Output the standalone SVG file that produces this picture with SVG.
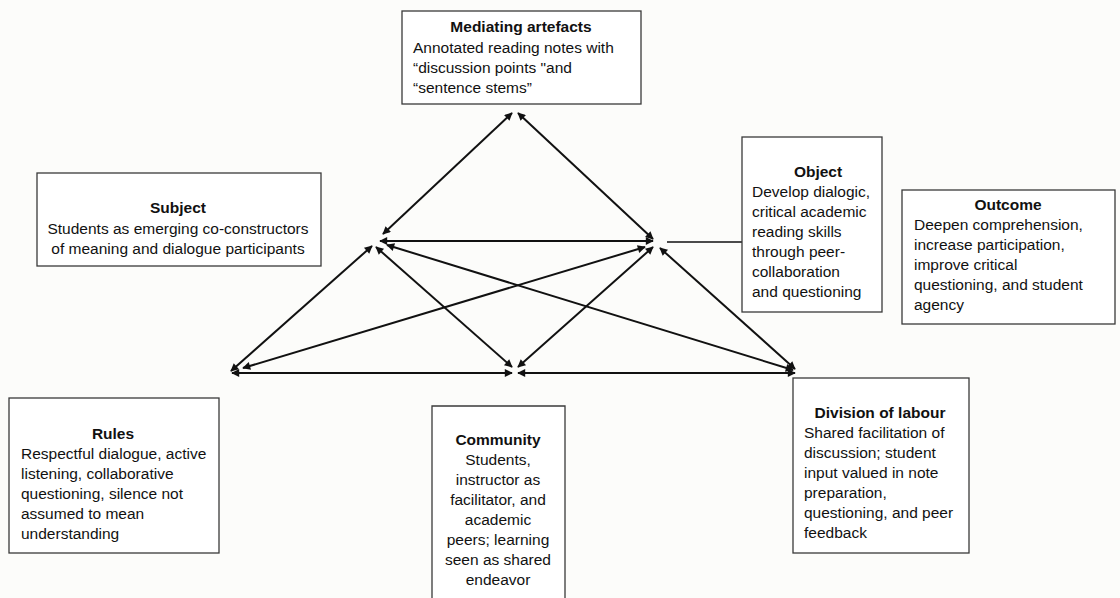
<svg xmlns="http://www.w3.org/2000/svg" width="1120" height="598" viewBox="0 0 1120 598">
  <style>
    .box { fill: #ffffff; stroke: #3a3a3a; stroke-width: 1.3; }
    .t { font-family: "Liberation Sans", Arial, sans-serif; font-size: 15.5px; fill: #111; }
    .h { font-weight: bold; text-anchor: middle; }
    .c { text-anchor: middle; }
    .link { stroke: #111; stroke-width: 2; fill: none; marker-start: url(#tip); marker-end: url(#tip); }
    .plain { stroke: #111; stroke-width: 1.5; fill: none; }
  </style>
  <defs>
    <marker id="tip" viewBox="0 0 10 10" refX="9" refY="5" markerWidth="10" markerHeight="8" markerUnits="userSpaceOnUse" orient="auto-start-reverse">
      <path d="M0,0 L10,5 L0,10 z" fill="#111"/>
    </marker>
  </defs>

  <rect x="0" y="0" width="1120" height="598" fill="#fcfcfa"/>

  <!-- connectors of the activity system triangle -->
  <g id="connectors">
    <line class="link" x1="512" y1="113" x2="383" y2="234"/>
    <line class="link" x1="518" y1="113" x2="653" y2="239"/>
    <line class="link" x1="380" y1="241" x2="653" y2="241"/>
    <line class="link" x1="372" y1="246" x2="231" y2="371"/>
    <line class="link" x1="232" y1="373" x2="512" y2="373"/>
    <line class="link" x1="243" y1="368" x2="645" y2="247"/>
    <line class="link" x1="376" y1="247" x2="512" y2="367"/>
    <line class="link" x1="387" y1="245" x2="793" y2="370"/>
    <line class="link" x1="653" y1="247" x2="518" y2="367"/>
    <line class="link" x1="660" y1="248" x2="795" y2="369"/>
    <line class="link" x1="518" y1="373" x2="795" y2="373"/>
    <line class="plain" x1="667" y1="242" x2="742" y2="242"/>
  </g>

  <g id="mediating-artefacts">
    <rect class="box" x="402" y="11" width="239" height="93"/>
    <text class="t h" x="521" y="32">Mediating artefacts</text>
    <text class="t" x="413" y="53">Annotated reading notes with</text>
    <text class="t" x="413" y="73">“discussion points "and</text>
    <text class="t" x="413" y="93">“sentence stems”</text>
  </g>

  <g id="subject">
    <rect class="box" x="37" y="173" width="284" height="93"/>
    <text class="t h" x="178" y="213">Subject</text>
    <text class="t c" x="178" y="234">Students as emerging co-constructors</text>
    <text class="t c" x="178" y="254">of meaning and dialogue participants</text>
  </g>

  <g id="object">
    <rect class="box" x="742" y="137" width="140" height="175"/>
    <text class="t h" x="818" y="177">Object</text>
    <text class="t" x="752" y="197">Develop dialogic,</text>
    <text class="t" x="752" y="217">critical academic</text>
    <text class="t" x="752" y="237">reading skills</text>
    <text class="t" x="752" y="257">through peer-</text>
    <text class="t" x="752" y="277">collaboration</text>
    <text class="t" x="752" y="297">and questioning</text>
  </g>

  <g id="outcome">
    <rect class="box" x="902" y="190" width="213" height="134"/>
    <text class="t h" x="1008" y="210">Outcome</text>
    <text class="t" x="914" y="230">Deepen comprehension,</text>
    <text class="t" x="914" y="250">increase participation,</text>
    <text class="t" x="914" y="270">improve critical</text>
    <text class="t" x="914" y="290">questioning, and student</text>
    <text class="t" x="914" y="310">agency</text>
  </g>

  <g id="rules">
    <rect class="box" x="9" y="398" width="210" height="155"/>
    <text class="t h" x="113" y="439">Rules</text>
    <text class="t" x="21" y="459">Respectful dialogue, active</text>
    <text class="t" x="21" y="479">listening, collaborative</text>
    <text class="t" x="21" y="499">questioning, silence not</text>
    <text class="t" x="21" y="519">assumed to mean</text>
    <text class="t" x="21" y="539">understanding</text>
  </g>

  <g id="community">
    <path class="box" d="M432,600 L432,406 L565,406 L565,600"/>
    <text class="t h" x="498" y="445">Community</text>
    <text class="t c" x="498" y="465">Students,</text>
    <text class="t c" x="498" y="485">instructor as</text>
    <text class="t c" x="498" y="505">facilitator, and</text>
    <text class="t c" x="498" y="525">academic</text>
    <text class="t c" x="498" y="545">peers; learning</text>
    <text class="t c" x="498" y="565">seen as shared</text>
    <text class="t c" x="498" y="585">endeavor</text>
  </g>

  <g id="division-of-labour">
    <rect class="box" x="793" y="378" width="176" height="175"/>
    <text class="t h" x="880" y="418">Division of labour</text>
    <text class="t" x="804" y="438">Shared facilitation of</text>
    <text class="t" x="804" y="458">discussion; student</text>
    <text class="t" x="804" y="478">input valued in note</text>
    <text class="t" x="804" y="498">preparation,</text>
    <text class="t" x="804" y="518">questioning, and peer</text>
    <text class="t" x="804" y="538">feedback</text>
  </g>
</svg>
